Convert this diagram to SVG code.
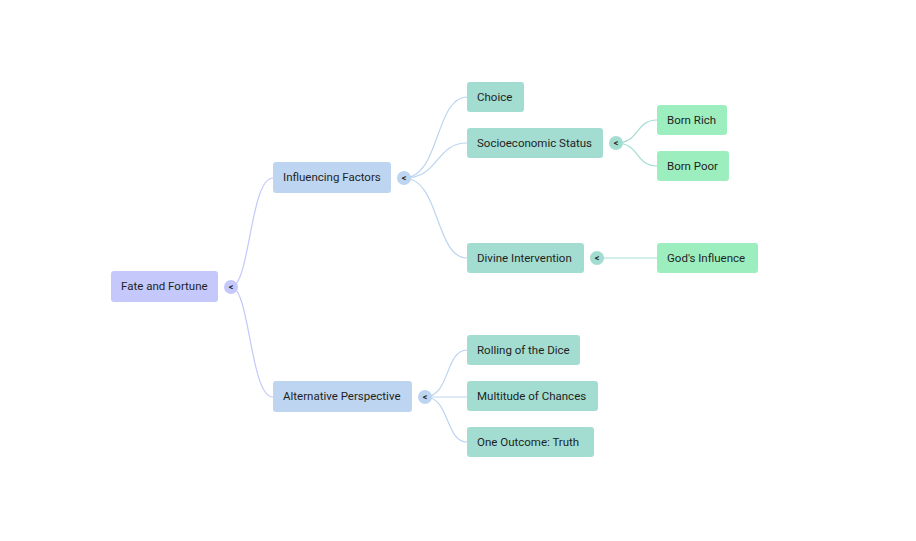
<svg xmlns="http://www.w3.org/2000/svg" width="916" height="541" viewBox="0 0 916 541">
<style>
text{font-family:Roboto,"Open Sans",sans-serif;font-size:11.5px;fill:#1f1f1f}
.r{fill:#c4c8fa}.a{fill:#bdd5f0}.b{fill:#a3ddd1}.c{fill:#9deebf}
.t{font-size:9px;font-weight:bold;text-anchor:middle}
.e0{stroke:#c4c8fa}.e1{stroke:#bdd5f0}.e2{stroke:#a3ddd1}
path{fill:none;stroke-width:1.2}
</style>
<rect width="916" height="541" fill="#fff"/>
<g id="connectors">
<path class="e0" d="M231 287 C250 287 250 178 273 178"/>
<path class="e0" d="M231 287 C250 287 250 397 273 397"/>
<path class="e1" d="M404 178 C440 178 435 97 467 97"/>
<path class="e1" d="M404 178 C440 178 435 143 467 143"/>
<path class="e1" d="M404 178 C440 178 435 258 467 258"/>
<path class="e1" d="M425 397 C450 397 445 350 467 350"/>
<path class="e1" d="M425 397 L467 397"/>
<path class="e1" d="M425 397 C450 397 445 442 467 442"/>
<path class="e2" d="M616 143 C640 143 635 120 657 120"/>
<path class="e2" d="M616 143 C640 143 635 166 657 166"/>
<path class="e2" d="M597 258 L657 258"/>
</g>
<g id="root"><rect class="r" x="111" y="271" width="107" height="31" rx="3"/><text x="121" y="290">Fate and Fortune</text><circle class="r" cx="231" cy="287" r="7"/><text class="t" x="231" y="290">&lt;</text></g>
<g id="influencing"><rect class="a" x="273" y="162" width="118" height="31" rx="3"/><text x="283" y="181">Influencing Factors</text><circle class="a" cx="404" cy="178" r="7"/><text class="t" x="404" y="181">&lt;</text></g>
<g id="alternative"><rect class="a" x="273" y="381" width="139" height="31" rx="3"/><text x="283" y="400">Alternative Perspective</text><circle class="a" cx="425" cy="397" r="7"/><text class="t" x="425" y="400">&lt;</text></g>
<g id="choice"><rect class="b" x="467" y="82" width="57" height="30" rx="3"/><text x="477" y="101">Choice</text></g>
<g id="socio"><rect class="b" x="467" y="128" width="136" height="30" rx="3"/><text x="477" y="147">Socioeconomic Status</text><circle class="b" cx="616" cy="143" r="7"/><text class="t" x="616" y="146">&lt;</text></g>
<g id="divine"><rect class="b" x="467" y="243" width="117" height="30" rx="3"/><text x="477" y="262">Divine Intervention</text><circle class="b" cx="597" cy="258" r="7"/><text class="t" x="597" y="261">&lt;</text></g>
<g id="rich"><rect class="c" x="657" y="105" width="70" height="30" rx="3"/><text x="667" y="124">Born Rich</text></g>
<g id="poor"><rect class="c" x="657" y="151" width="72" height="30" rx="3"/><text x="667" y="170">Born Poor</text></g>
<g id="god"><rect class="c" x="657" y="243" width="101" height="30" rx="3"/><text x="667" y="262">God's Influence</text></g>
<g id="dice"><rect class="b" x="467" y="335" width="113" height="30" rx="3"/><text x="477" y="354">Rolling of the Dice</text></g>
<g id="multitude"><rect class="b" x="467" y="381" width="131" height="30" rx="3"/><text x="477" y="400">Multitude of Chances</text></g>
<g id="outcome"><rect class="b" x="467" y="427" width="127" height="30" rx="3"/><text x="477" y="446">One Outcome: Truth</text></g>
</svg>
